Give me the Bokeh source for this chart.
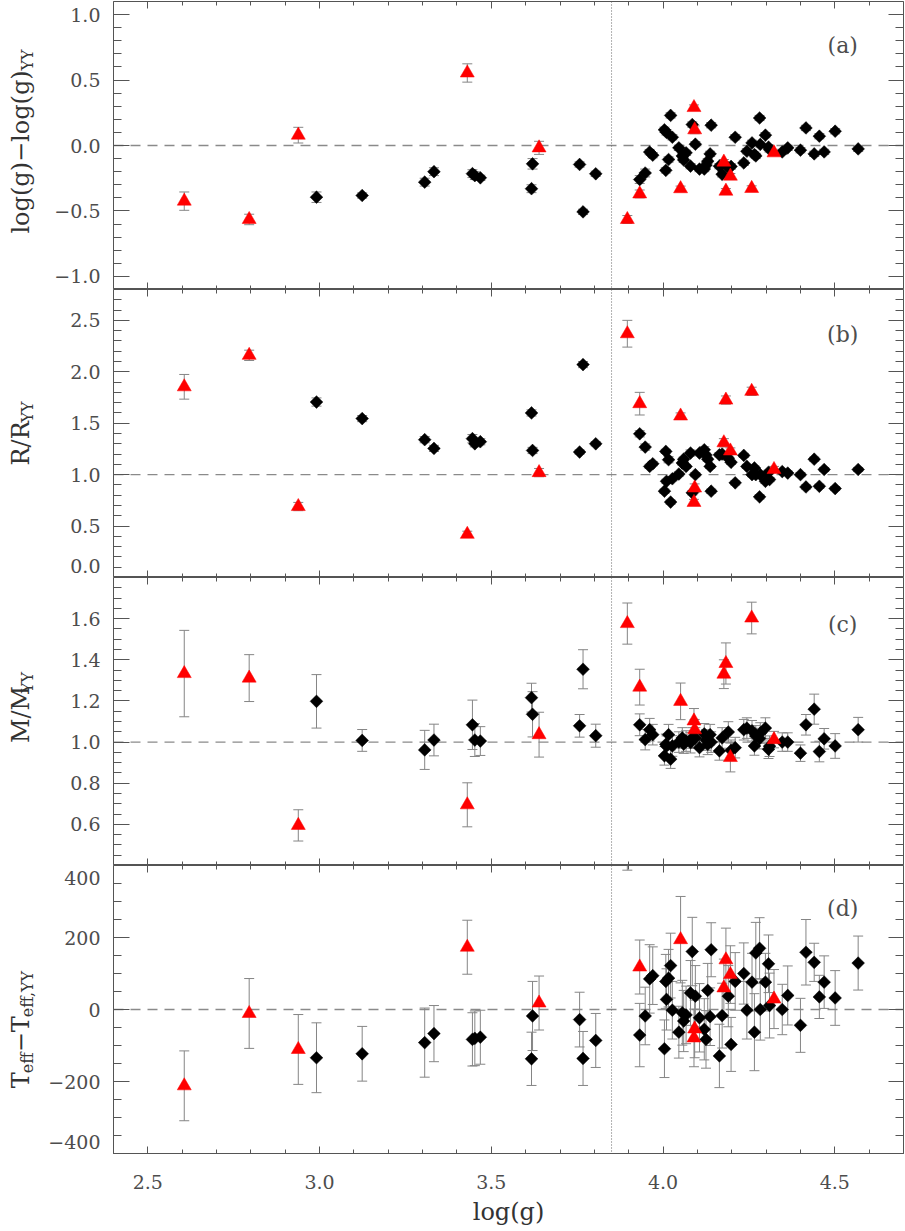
import numpy as np
from bokeh.plotting import figure
from bokeh.models import (ColumnDataSource, Range1d, LinearAxis, FixedTicker,
                          Whisker, TeeHead, Span, Label)
from bokeh.layouts import column, row
from bokeh.core.properties import value
from bokeh.embed import file_html
from bokeh.resources import INLINE

# ---------------------------------------------------------------- data
# black diamonds
bk_logg = [2.991, 3.124, 3.306, 3.333, 3.445, 3.452, 3.468, 3.617, 3.620, 3.757, 3.767, 3.804,
           3.932, 3.948, 3.961, 3.970, 4.004, 4.008, 4.010, 4.016, 4.022, 4.027, 4.046, 4.056,
           4.060, 4.067, 4.080, 4.085, 4.094, 4.106, 4.120, 4.125, 4.130, 4.137, 4.140, 4.164,
           4.172, 4.190, 4.198, 4.210, 4.235, 4.244, 4.259, 4.266, 4.270, 4.281, 4.283, 4.298,
           4.307, 4.310, 4.347, 4.363, 4.400, 4.416, 4.440, 4.455, 4.469, 4.501, 4.568]
bk_dlogg = [-0.395, -0.382, -0.28, -0.20, -0.215, -0.23, -0.247, -0.33, -0.14, -0.145, -0.507, -0.216,
            -0.26, -0.21, -0.05, -0.074, 0.12, -0.19, 0.10, -0.107, 0.23, 0.063, -0.018, -0.08,
            -0.11, -0.056, -0.158, 0.16, 0.01, -0.18, -0.18, -0.15, -0.12, -0.064, 0.155, -0.158,
            -0.22, -0.17, -0.16, 0.063, -0.133, -0.044, 0.02, -0.069, -0.08, 0.21, 0.008, 0.079,
            -0.013, -0.03, -0.049, -0.018, -0.036, 0.134, -0.064, 0.071, -0.049, 0.109, -0.026]
bk_dlogg_err = [0.04, 0.02, 0.03, 0.03, 0.03, 0.03, 0.02, 0.03, 0.04, 0.02, 0.02, 0.02,
                0.03, 0.03, 0.02, 0.02, 0.02, 0.02, 0.02, 0.02, 0.02, 0.02, 0.02, 0.02,
                0.02, 0.02, 0.02, 0.02, 0.02, 0.02, 0.02, 0.02, 0.02, 0.02, 0.02, 0.02,
                0.02, 0.02, 0.02, 0.02, 0.02, 0.02, 0.02, 0.02, 0.02, 0.02, 0.02, 0.02,
                0.02, 0.02, 0.02, 0.02, 0.02, 0.02, 0.02, 0.02, 0.02, 0.02, 0.02]
bk_R = [1.706, 1.545, 1.34, 1.255, 1.35, 1.30, 1.32, 1.60, 1.235, 1.22, 2.07, 1.30,
        1.397, 1.268, 1.08, 1.106, 0.839, 1.226, 0.935, 1.145, 0.733, 0.96, 1.006, 1.113,
        1.15, 1.08, 1.21, 0.823, 1.0, 1.21, 1.242, 1.19, 1.15, 1.08, 0.839, 1.193,
        1.20, 1.16, 1.12, 0.92, 1.187, 1.08, 1.0, 1.065, 1.0, 0.784, 1.0, 0.935,
        1.023, 0.952, 1.03, 1.015, 1.0, 0.88, 1.15, 0.887, 1.05, 0.865, 1.05]
bk_R_err = [0.04, 0.03, 0.03, 0.03, 0.04, 0.03, 0.03, 0.03, 0.03, 0.02, 0.03, 0.02,
            0.03, 0.03, 0.02, 0.02, 0.02, 0.02, 0.02, 0.03, 0.02, 0.02, 0.02, 0.02,
            0.02, 0.02, 0.03, 0.02, 0.02, 0.02, 0.03, 0.02, 0.02, 0.02, 0.02, 0.02,
            0.02, 0.02, 0.02, 0.02, 0.02, 0.02, 0.02, 0.02, 0.02, 0.02, 0.02, 0.02,
            0.02, 0.02, 0.02, 0.02, 0.02, 0.02, 0.02, 0.02, 0.02, 0.02, 0.02]
bk_M = [1.198, 1.008, 0.962, 1.01, 1.084, 1.01, 1.005, 1.216, 1.135, 1.079, 1.354, 1.031,
        1.084, 1.012, 1.06, 1.036, 0.933, 0.989, 0.98, 1.036, 0.917, 0.981, 1.0, 1.02,
        0.99, 1.005, 0.997, 1.02, 1.02, 0.973, 1.04, 1.01, 0.989, 1.036, 1.0, 0.957,
        1.02, 1.049, 0.96, 0.973, 1.06, 1.068, 1.055, 0.981, 1.03, 1.017, 1.044, 1.068,
        0.965, 0.98, 1.0, 1.0, 0.946, 1.084, 1.16, 0.954, 1.016, 0.981, 1.06]
bk_M_err = [0.13, 0.053, 0.095, 0.077, 0.12, 0.08, 0.07, 0.07, 0.11, 0.055, 0.095, 0.056,
            0.053, 0.05, 0.055, 0.05, 0.045, 0.05, 0.05, 0.05, 0.045, 0.05, 0.05, 0.05,
            0.045, 0.05, 0.05, 0.05, 0.05, 0.045, 0.05, 0.05, 0.05, 0.05, 0.05, 0.045,
            0.05, 0.05, 0.05, 0.05, 0.05, 0.05, 0.05, 0.045, 0.05, 0.05, 0.05, 0.05,
            0.045, 0.05, 0.045, 0.045, 0.04, 0.05, 0.073, 0.05, 0.05, 0.06, 0.06]
bk_dT = [-134, -123, -92, -67, -83, -80, -77, -137, -18, -28, -136, -86,
         -71, -18, 85, 94, -109, 78, 28, 87, 122, -2, -63, -9,
         -32, -15, 46, 161, 37, -23, -55, -83, 53, -20, 166, -129,
         -17, 37, -97, 78, 100, -2, 76, -63, 157, 170, 0, 76,
         127, 11, 0, 39, -44, 159, 131, 35, 76, 32, 129]
bk_dT_err = [97, 76, 96, 78, 74, 76, 75, 74, 96, 76, 75, 75,
             88, 80, 95, 80, 80, 75, 85, 80, 90, 80, 72, 90,
             85, 80, 90, 95, 85, 95, 85, 80, 75, 80, 75, 88,
             90, 85, 75, 80, 85, 80, 80, 107, 85, 85, 85, 80,
             80, 90, 70, 82, 75, 91, 53, 60, 73, 76, 75]

# red triangles
rd_logg = [2.606, 2.795, 2.938, 3.430, 3.639, 3.896, 3.932, 4.051, 4.090, 4.092, 4.177, 4.183,
           4.196, 4.258, 4.323]
rd_dlogg = [-0.425, -0.565, 0.079, 0.554, -0.018, -0.565, -0.37, -0.33, 0.29, 0.12, -0.127, -0.349,
            -0.234, -0.328, -0.056]
rd_dlogg_err = [0.07, 0.04, 0.06, 0.07, 0.05, 0.03, 0.03, 0.02, 0.02, 0.03, 0.02, 0.02,
                0.02, 0.02, 0.02]
rd_R = [1.854, 2.16, 0.69, 0.42, 1.02, 2.37, 1.69, 1.57, 0.73, 0.87, 1.31, 1.725, 1.23, 1.81, 1.05]
rd_R_err = [0.12, 0.05, 0.04, 0.03, 0.04, 0.13, 0.11, 0.03, 0.03, 0.04, 0.04, 0.04, 0.03, 0.04, 0.03]
rd_M = [1.333, 1.311, 0.595, 0.695, 1.036, 1.576, 1.267, 1.198, 1.103, 1.06, 1.33, 1.382,
        0.925, 1.603, 1.012]
rd_M_err = [0.21, 0.114, 0.076, 0.107, 0.109, 0.10, 0.087, 0.089, 0.06, 0.05, 0.07, 0.10,
            0.07, 0.077, 0.04]
rd_dT = [-212, -11, -111, 173, 18, 467, 118, 194, -79, -54, 60, 138, 97, 560, 29]
rd_dT_err = [97, 97, 97, 75, 75, 80, 75, 120, 80, 80, 80, 88, 80, 80, 82]

# axes
x_ticks = [2.5, 3.0, 3.5, 4.0, 4.5]
x_tick_labels = ["2.5", "3.0", "3.5", "4.0", "4.5"]
ya_ticks = [-1.0, -0.5, 0.0, 0.5, 1.0]
ya_labels = ["\u22121.0", "\u22120.5", "0.0", "0.5", "1.0"]
yb_ticks = [0.0, 0.5, 1.0, 1.5, 2.0, 2.5]
yb_labels = ["0.0", "0.5", "1.0", "1.5", "2.0", "2.5"]
yc_ticks = [0.6, 0.8, 1.0, 1.2, 1.4, 1.6]
yc_labels = ["0.6", "0.8", "1.0", "1.2", "1.4", "1.6"]
yd_ticks = [-400, -200, 0, 200, 400]
yd_labels = ["\u2212400", "\u2212200", "0", "200", "400"]
panel_tags = ["(a)", "(b)", "(c)", "(d)"]

# ---------------------------------------------------------------- style
FONT = "DejaVu Serif"
AX = "#555555"
TXT = "#4d4d4d"
TTL = "#333333"
ERR = "#858585"
XLO, XHI = 2.4, 4.7
FW, FH = 790, 288
LW = 112          # width of the label strip left of each panel
x_minor = [round(v, 2) for v in np.arange(2.4, 4.7001, 0.1)]

BK = dict(a=bk_dlogg, ae=bk_dlogg_err, b=bk_R, be=bk_R_err, c=bk_M, ce=bk_M_err,
          d=bk_dT, de=bk_dT_err)
RD = dict(a=rd_dlogg, ae=rd_dlogg_err, b=rd_R, be=rd_R_err, c=rd_M, ce=rd_M_err,
          d=rd_dT, de=rd_dT_err)


def minor(lo, hi, step):
    return [round(v, 3) for v in np.arange(lo, hi + step / 2, step)]


def make_strip(lo, hi, ticks, labels, title_c, pieces, first):
    """Narrow figure holding the y tick labels and the y title (with subscripts)."""
    f = figure(frame_width=LW, frame_height=FH, x_range=Range1d(0, LW), y_range=Range1d(lo, hi),
               x_axis_type=None, y_axis_type=None, output_backend="svg", toolbar_location=None,
               min_border_left=0, min_border_right=0, min_border_top=1 if first else 0,
               min_border_bottom=0)
    f.outline_line_color = None
    f.background_fill_color = "white"
    f.border_fill_color = "white"
    per_px = (hi - lo) / FH
    ys = []
    for t in ticks:
        if abs(t - lo) < 1e-9:          # label at the lower edge: keep it inside the strip
            ys.append(t + 12 * per_px)
        elif abs(t - hi) < 1e-9:        # label at the upper edge
            ys.append(t - 12 * per_px)
        else:
            ys.append(t)
    f.text(x=[100] * len(ys), y=ys, text=labels, text_align=value("right"),
           text_baseline=value("middle"), text_font=value(FONT),
           text_font_size=value("19px"), text_color=TXT)
    for text, size, xc, dy in pieces:
        f.text(x=[xc], y=[title_c + dy * per_px], text=[text], angle=np.pi / 2,
               text_align=value("left"), text_baseline=value("middle"),
               text_font=value(FONT), text_font_size=value(size), text_color=TTL)
    return f


def make_panel(k, lo, hi, ticks, yminor, ref, tag, tag_y, first=False, last=False):
    p = figure(frame_width=FW, frame_height=FH,
               x_range=Range1d(XLO, XHI), y_range=Range1d(lo, hi),
               x_axis_type=None, y_axis_type=None,
               output_backend="svg", toolbar_location=None,
               min_border_left=1, min_border_right=1,
               min_border_top=1 if first else 0, min_border_bottom=0)
    p.outline_line_color = AX
    p.outline_line_width = 1
    p.background_fill_color = "white"
    p.border_fill_color = "white"

    common = dict(major_tick_out=0, minor_tick_out=0, axis_line_color=AX,
                  major_tick_line_color=AX, minor_tick_line_color=AX)
    p.add_layout(LinearAxis(ticker=FixedTicker(ticks=ticks, minor_ticks=yminor), fixed_location=XLO,
                            major_tick_in=16, minor_tick_in=8, major_label_text_color=None,
                            **common), "left")
    p.add_layout(LinearAxis(ticker=FixedTicker(ticks=ticks, minor_ticks=yminor), fixed_location=XHI,
                            major_tick_in=15, minor_tick_in=8, major_label_text_color=None,
                            **common), "right")
    p.add_layout(LinearAxis(ticker=FixedTicker(ticks=x_ticks, minor_ticks=x_minor), fixed_location=hi,
                            major_tick_in=7, minor_tick_in=4, major_label_text_color=None,
                            **common), "above")
    if last:
        bottom = LinearAxis(ticker=FixedTicker(ticks=x_ticks, minor_ticks=x_minor),
                            major_label_overrides={float(t): s for t, s in zip(x_ticks, x_tick_labels)},
                            major_tick_in=7, minor_tick_in=4, major_label_standoff=21,
                            major_label_text_font=FONT, major_label_text_font_size="19px",
                            major_label_text_color=TXT,
                            axis_label="log(g)", axis_label_standoff=6,
                            axis_label_text_font=FONT, axis_label_text_font_size="24px",
                            axis_label_text_font_style="normal", axis_label_text_color=TTL,
                            **common)
    else:
        bottom = LinearAxis(ticker=FixedTicker(ticks=x_ticks, minor_ticks=x_minor), fixed_location=lo,
                            major_tick_in=7, minor_tick_in=4, major_label_text_color=None, **common)
    p.add_layout(bottom, "below")

    # reference lines
    p.add_layout(Span(location=ref, dimension="width", line_color="#8a8a8a", line_width=1.3,
                      line_dash="10 7", level="underlay"))
    p.add_layout(Span(location=3.85, dimension="height", line_color="#666666", line_width=1,
                      line_dash="1 2", level="underlay"))

    # data
    bv = np.array(BK[k], dtype=float)
    be = np.array(BK[k + "e"], dtype=float)
    rv = np.array(RD[k], dtype=float)
    re_ = np.array(RD[k + "e"], dtype=float)
    bsrc = ColumnDataSource(dict(x=bk_logg, y=bv, upper=bv + be, lower=bv - be))
    rsrc = ColumnDataSource(dict(x=rd_logg, y=rv, upper=rv + re_, lower=rv - re_))
    for src in (bsrc, rsrc):
        p.add_layout(Whisker(base="x", upper="upper", lower="lower", source=src,
                             dimension="height", line_color=ERR, line_width=1,
                             upper_head=TeeHead(size=10, line_color=ERR, line_width=1),
                             lower_head=TeeHead(size=10, line_color=ERR, line_width=1),
                             level="underlay"))
    p.scatter("x", "y", source=bsrc, marker="square", angle=np.pi / 4, size=9,
              fill_color="black", line_color="black", line_width=0.5)
    p.scatter("x", "y", source=rsrc, marker="triangle", size=14,
              fill_color="#ff0000", line_color="#ff0000", line_width=0.5)

    p.add_layout(Label(x=4.523, y=tag_y, text=tag,
                       text_align="center", text_baseline="middle",
                       text_font=FONT, text_font_size="22px", text_color=TXT))
    return p


XM, XS = 20, 27   # x centre of main title text / subscripts inside the strip
rows = []
specs = [
    ("a", -1.1, 1.1, ya_ticks, ya_labels, minor(-1.1, 1.1, 0.1), 0.0, 0.766, 0.03,
     [("log(g)\u2212log(g)", "24px", XM, -92), ("YY", "16px", XS, 71)]),
    ("b", 0.0, 2.8, yb_ticks, yb_labels, minor(0.0, 2.8, 0.1), 1.0, 2.36, 1.4,
     [("R/R", "24px", XM, -32), ("YY", "16px", XS, 11)]),
    ("c", 0.4, 1.8, yc_ticks, yc_labels, minor(0.4, 1.8, 0.05), 1.0, 1.573, 1.17,
     [("M/M", "24px", XM, -36), ("YY", "16px", XS, 14)]),
    ("d", -400, 400, yd_ticks, yd_labels, minor(-400, 400, 50), 0.0, 280, -55,
     [("T", "24px", XM, -59), ("eff", "16px", XS, -44),
      ("\u2212T", "24px", XM, -23), ("eff,YY", "16px", XS, 12)]),
]
for i, (k, lo, hi, ticks, labels, ym, ref, tag_y, tc, pieces) in enumerate(specs):
    first, last = i == 0, i == len(specs) - 1
    strip = make_strip(lo, hi, ticks, labels, tc, pieces, first)
    panel = make_panel(k, lo, hi, ticks, ym, ref, panel_tags[i], tag_y, first=first, last=last)
    rows.append(row(strip, panel, spacing=0))

layout = column(*rows, spacing=0)
open("out.html", "w").write(file_html(layout, INLINE, title="log g comparison"))
